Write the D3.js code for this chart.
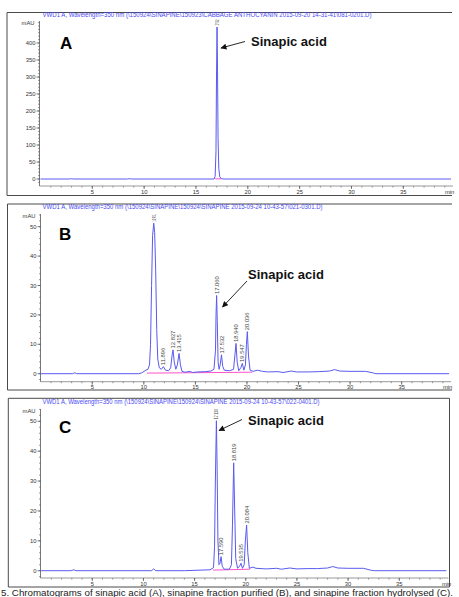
<!DOCTYPE html>
<html>
<head>
<meta charset="utf-8">
<script src="https://cdn.jsdelivr.net/npm/d3@7"></script>
<style>
html,body{margin:0;padding:0;background:#fff;}
svg{display:block;}
</style>
</head>
<body>
<svg id="chart" width="459" height="597"></svg>
<script>
// ---------- DATA ----------
const panelLetters = ["A", "B", "C"];
const panelTitles = [
  "VWD1 A, Wavelength=350 nm (\\150924\\SINAPINE\\150923\\CABBAGE ANTHOCYANIN 2015-09-20 14-31-41\\081-0201.D)",
  "VWD1 A, Wavelength=350 nm (\\150924\\SINAPINE\\150924\\SINAPINE 2015-09-24 10-43-57\\021-0301.D)",
  "VWD1 A, Wavelength=350 nm (\\150924\\SINAPINE\\150924\\SINAPINE 2015-09-24 10-43-57\\022-0401.D)"
];
const annotationText = "Sinapic acid";
const yUnit = "mAU";
const xUnit = "min";
const xTickValues = [5, 10, 15, 20, 25, 30, 35];
const yTicksA = [0, 50, 100, 150, 200, 250, 300, 350, 400];
const yTicksBC = [0, 10, 20, 30, 40, 50];

// trace A: [time (min), signal (mAU)]
const traceA = [
  [0, 0], [2.8, 0], [3.0, 0.8], [3.2, 0], [8.4, 0], [8.6, 1], [8.8, 0],
  [16.75, 0], [16.85, 8], [16.93, 80], [16.98, 300], [17.032, 447],
  [17.08, 320], [17.13, 120], [17.2, 30], [17.3, 6], [17.45, 1], [17.7, 0], [39.6, 0]
];
// trace B
const traceB = [
  [0, 0], [3.1, 0], [3.3, 0.3], [3.5, 0], [9.5, 0], [9.8, 0.3], [10.2, 1.2], [10.4, 1.5],
  [10.55, 3], [10.65, 10], [10.75, 30], [10.85, 47], [10.961, 51.2], [11.05, 48],
  [11.15, 35], [11.25, 15], [11.35, 5], [11.5, 2], [11.7, 1.5], [11.896, 2.4],
  [12.1, 1.2], [12.4, 1.0], [12.6, 2], [12.75, 6.5], [12.827, 8.1], [12.95, 4],
  [13.1, 1.5], [13.25, 3], [13.415, 6.9], [13.55, 3], [13.7, 0.8], [14.0, 0.5],
  [14.5, 0.8], [14.7, 0.4], [15.2, 0.6], [16.0, 0.7], [16.5, 0.9], [16.8, 1.5],
  [16.95, 8], [17.0, 20], [17.06, 26.6], [17.12, 18], [17.2, 4], [17.3, 1.5],
  [17.4, 3], [17.532, 6.4], [17.65, 2.5], [17.8, 1.2], [18.3, 1.0], [18.7, 1.5],
  [18.85, 7], [18.94, 10.3], [19.05, 4], [19.2, 1], [19.4, 2], [19.547, 3.5],
  [19.7, 1.2], [19.85, 3], [19.95, 10], [20.036, 14.3], [20.15, 6], [20.3, 1.2],
  [20.6, 0.8], [21.0, 1.2], [21.5, 0.8], [22, 0.6], [23, 0.7], [23.5, 0.4],
  [24.3, 0.9], [24.8, 0.6], [26, 0.6], [27, 0.7], [28, 0.9], [28.5, 1.4], [29, 0.9],
  [30, 0.8], [31.5, 0.8], [32.2, 0.3], [32.5, 0], [39.6, 0]
];
// trace C
const traceC = [
  [0, 0], [2.9, 0], [3.2, 0.3], [3.4, 0], [10.8, 0], [11.0, 0.6], [11.2, 0], [14, 0],
  [16.5, 0.3], [16.85, 1], [16.95, 8], [17.03, 30], [17.13, 50.2], [17.2, 35],
  [17.28, 10], [17.38, 2], [17.48, 2.5], [17.59, 4.7], [17.7, 1.5], [17.9, 0.5],
  [18.4, 0.5], [18.6, 2], [18.7, 15], [18.819, 36.1], [18.92, 20], [19.02, 4],
  [19.2, 0.8], [19.4, 1.5], [19.535, 2.5], [19.68, 0.8], [19.85, 2], [19.96, 10],
  [20.084, 15.3], [20.2, 6], [20.35, 0.8], [20.7, 1.2], [21.0, 0.8], [22, 0.6],
  [23, 0.8], [23.5, 0.5], [24.3, 0.9], [25, 0.6], [26, 0.7], [27, 0.7], [28, 0.9],
  [28.5, 1.4], [29, 0.9], [30, 0.8], [31.5, 0.8], [32.3, 0.1], [32.6, 0], [39.6, 0]
];
// peak retention-time labels: [time, height (mAU), label]
const peaksA = [[17.032, 447, "17.032"]];
const peaksB = [
  [10.961, 51.2, "10.961"], [11.896, 2.4, "11.896"], [12.827, 8.1, "12.827"],
  [13.415, 6.9, "13.415"], [17.06, 26.6, "17.060"], [17.532, 6.4, "17.532"],
  [18.94, 10.3, "18.940"], [19.547, 3.5, "19.547"], [20.036, 14.3, "20.036"]
];
const peaksC = [
  [17.13, 50.2, "17.130"], [17.59, 4.7, "17.590"], [18.819, 36.1, "18.819"],
  [19.535, 2.5, "19.535"], [20.084, 15.3, "20.084"]
];
// integration baselines: [[t0, v0], [t1, v1]]
const baselineA = [[16.85, 0.5], [17.45, 0.5]];
const baselineB = [[10.3, 0.2], [20.5, 0.5]];
const baselineC = [[16.8, 0.2], [20.4, 0.5]];
const captionText = "5. Chromatograms of sinapic acid (A), sinapine fraction purified (B), and sinapine fraction hydrolysed (C).";

// ---------- LAYOUT ----------
const layouts = [
  { frame: [7, 12.5, 452, 195.5], right: false, xRange: [40.47, 10.367], yDomain: [0, 400], yRange: [179, 43],
    yMinorStep: 10, yMin: -15, axisTop: 21, xAxisY: 186, yAxisX: 39.5, titleY: 17.2, titleLen: 329,
    letter: [60, 48.5], ann: [251, 46], arrowFrom: [245, 41.5], arrowTo: [221, 48], minX: 445 },
  { frame: [7.5, 204, 452, 390], right: false, xRange: [40.7, 10.313], yDomain: [0, 50], yRange: [373.7, 226.7],
    yMinorStep: 2, yMin: -2.7, axisTop: 214, xAxisY: 381.7, yAxisX: 40.5, titleY: 208.8, titleLen: 280,
    letter: [59, 239.5], ann: [248, 279], arrowFrom: [247, 281], arrowTo: [222.5, 307], minX: 443 },
  { frame: [8.3, 398.3, 449.5, 587], right: true, xRange: [41.1, 10.233], yDomain: [0, 50], yRange: [570.7, 421.3],
    yMinorStep: 2, yMin: -2.5, axisTop: 409, xAxisY: 578, yAxisX: 40.5, titleY: 404, titleLen: 277,
    letter: [59, 432.5], ann: [248, 424.5], arrowFrom: [242, 419.5], arrowTo: [219, 430.5], minX: 442 }
];
const traces = [traceA, traceB, traceC];
const peaks = [peaksA, peaksB, peaksC];
const baselines = [baselineA, baselineB, baselineC];
const yTicksAll = [yTicksA, yTicksBC, yTicksBC];

const traceColor = "#5a5af0";
const frameColor = "#4a4a4a";
const tickColor = "#555";
const titleColor = "#4b4bf5";
const baseColor = "#ff3fbf";
const smallFont = "'Liberation Sans', Arial, sans-serif";

const svg = d3.select("#chart");
svg.append("rect").attr("width", 459).attr("height", 597).attr("fill", "#fff");

const defs = svg.append("defs");
defs.append("marker").attr("id", "arrowhead")
  .attr("viewBox", "0 0 10 10").attr("refX", 9).attr("refY", 5)
  .attr("markerWidth", 7).attr("markerHeight", 6).attr("markerUnits", "userSpaceOnUse")
  .attr("orient", "auto")
  .append("path").attr("d", "M0,0 L10,5 L0,10 Z").attr("fill", "#111");

layouts.forEach((L, i) => {
  const g = svg.append("g");
  const [fx0, fy0, fx1, fy1] = L.frame;
  // frame
  const fr = d3.path();
  fr.moveTo(fx1, fy0); fr.lineTo(fx0, fy0); fr.lineTo(fx0, fy1); fr.lineTo(fx1, fy1);
  if (L.right) { fr.moveTo(fx1, fy0); fr.lineTo(fx1, fy1); }
  g.append("path").attr("d", fr.toString()).attr("fill", "none").attr("stroke", frameColor).attr("stroke-width", 1);

  const x = d3.scaleLinear().domain([0, 1]).range([L.xRange[0], L.xRange[0] + L.xRange[1]]);
  const y = d3.scaleLinear().domain(L.yDomain).range(L.yRange);
  const xEnd = 39.6;

  // title
  g.append("text").attr("x", 42.5).attr("y", L.titleY)
    .attr("font-family", smallFont).attr("font-size", 6.3).attr("fill", titleColor)
    .attr("textLength", L.titleLen).attr("lengthAdjust", "spacingAndGlyphs")
    .text(panelTitles[i]);

  // y axis line
  g.append("line").attr("x1", L.yAxisX).attr("x2", L.yAxisX)
    .attr("y1", L.axisTop).attr("y2", L.xAxisY)
    .attr("stroke", tickColor).attr("stroke-width", 0.8);
  // y minor ticks
  const yMaxVal = y.invert(L.axisTop);
  const minorY = d3.range(Math.ceil(L.yMin / L.yMinorStep) * L.yMinorStep, yMaxVal, L.yMinorStep);
  g.selectAll(".ymin").data(minorY).join("line")
    .attr("x1", L.yAxisX - 1.5).attr("x2", L.yAxisX)
    .attr("y1", d => y(d)).attr("y2", d => y(d))
    .attr("stroke", tickColor).attr("stroke-width", 0.6);
  // y major ticks + labels
  const yt = yTicksAll[i];
  g.selectAll(".ymaj").data(yt).join("line")
    .attr("x1", L.yAxisX - 3).attr("x2", L.yAxisX)
    .attr("y1", d => y(d)).attr("y2", d => y(d))
    .attr("stroke", tickColor).attr("stroke-width", 0.8);
  g.selectAll(".ylab").data(yt).join("text")
    .attr("x", L.yAxisX - 4).attr("y", d => y(d) + 2)
    .attr("text-anchor", "end").attr("font-family", smallFont).attr("font-size", 5.8).attr("fill", "#333")
    .text(d => d);
  g.append("text").attr("x", L.yAxisX - 5).attr("y", L.axisTop + 3.5)
    .attr("text-anchor", "end").attr("font-family", smallFont).attr("font-size", 5.8).attr("fill", "#333")
    .text(yUnit);

  // x axis
  g.append("line").attr("x1", L.yAxisX).attr("x2", x(xEnd) + 2)
    .attr("y1", L.xAxisY).attr("y2", L.xAxisY)
    .attr("stroke", tickColor).attr("stroke-width", 0.6);
  const minorX = d3.range(1, 40, 1);
  g.selectAll(".xmin").data(minorX).join("line")
    .attr("x1", d => x(d)).attr("x2", d => x(d))
    .attr("y1", L.xAxisY).attr("y2", L.xAxisY + 1.5)
    .attr("stroke", tickColor).attr("stroke-width", 0.6);
  g.selectAll(".xmaj").data(xTickValues).join("line")
    .attr("x1", d => x(d)).attr("x2", d => x(d))
    .attr("y1", L.xAxisY).attr("y2", L.xAxisY + 3)
    .attr("stroke", tickColor).attr("stroke-width", 0.8);
  g.selectAll(".xlab").data(xTickValues).join("text")
    .attr("x", d => x(d)).attr("y", L.xAxisY + 7.5)
    .attr("text-anchor", "middle").attr("font-family", smallFont).attr("font-size", 5.8).attr("fill", "#333")
    .text(d => d);
  g.append("text").attr("x", L.minX).attr("y", L.xAxisY + 7.5)
    .attr("font-family", smallFont).attr("font-size", 5.8).attr("fill", "#333")
    .text(xUnit);

  // baseline (integration) in pink
  g.append("path").datum(baselines[i])
    .attr("d", d3.line().x(d => x(d[0])).y(d => y(d[1])))
    .attr("fill", "none").attr("stroke", baseColor).attr("stroke-width", 0.9);

  // trace
  g.append("path").datum(traces[i])
    .attr("d", d3.line().x(d => x(d[0])).y(d => y(d[1])))
    .attr("fill", "none").attr("stroke", traceColor).attr("stroke-width", 1)
    .attr("stroke-linejoin", "round");

  // peak labels (rotated)
  peaks[i].forEach(p => {
    const px = x(p[0]) + 2;
    const py = y(p[1]) - 1.5;
    const nominal = 15;
    const avail = py - L.axisTop;
    const t = g.append("text")
      .attr("transform", `translate(${px},${py}) rotate(-90)`)
      .attr("font-family", smallFont).attr("font-size", 5.8).attr("fill", "#444")
      .text(p[2]);
    if (avail < nominal) t.attr("textLength", Math.max(avail, 6)).attr("lengthAdjust", "spacingAndGlyphs");
  });

  // panel letter
  g.append("text").attr("x", L.letter[0]).attr("y", L.letter[1])
    .attr("font-family", "'Liberation Sans', Arial, sans-serif").attr("font-weight", "bold")
    .attr("font-size", 17).attr("fill", "#000").text(panelLetters[i]);

  // annotation
  g.append("text").attr("x", L.ann[0]).attr("y", L.ann[1])
    .attr("font-family", "'Liberation Sans', Arial, sans-serif").attr("font-weight", "bold")
    .attr("font-size", 13).attr("fill", "#111").text(annotationText);
  g.append("line")
    .attr("x1", L.arrowFrom[0]).attr("y1", L.arrowFrom[1])
    .attr("x2", L.arrowTo[0]).attr("y2", L.arrowTo[1])
    .attr("stroke", "#111").attr("stroke-width", 0.9)
    .attr("marker-end", "url(#arrowhead)");
});

// caption line at the very bottom
svg.append("text").attr("x", 1).attr("y", 595.5)
  .attr("font-family", "'Liberation Sans', Arial, sans-serif").attr("font-size", 9.5).attr("fill", "#222")
  .attr("textLength", 452).attr("lengthAdjust", "spacingAndGlyphs")
  .text(captionText);
</script>
</body>
</html>
